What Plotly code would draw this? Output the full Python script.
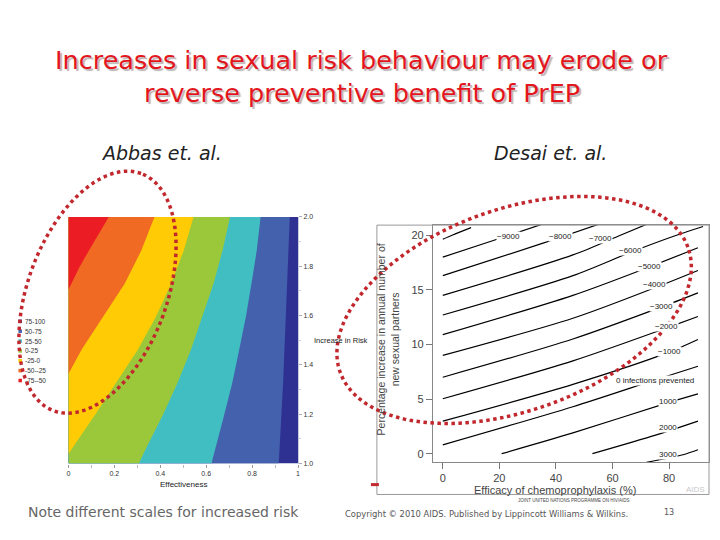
import math
import plotly.graph_objects as go

# The page body has an 8px margin; the figure is sized so it fits the 720x540 window.
OFF = 8
W, H = 720 - 2 * OFF, 540 - 2 * OFF


def px(x):
    return (x - OFF) / W


def py(y):
    return 1 - (y - OFF) / H


# ---------------- Left chart (Abbas et al.) ----------------
# Band boundaries, (effectiveness, increase in risk), top -> bottom
red_orange_x = [0.176, 0.130, 0.089, 0.048, 0.010, 0.0]
red_orange_y = [2.0, 1.929, 1.863, 1.796, 1.729, 1.705]
orange_yellow_x = [0.375, 0.317, 0.245, 0.152, 0.058, 0.0]
orange_yellow_y = [2.0, 1.863, 1.729, 1.596, 1.463, 1.363]
yellow_green_x = [0.545, 0.502, 0.447, 0.382, 0.303, 0.209, 0.115, 0.036, 0.0]
yellow_green_y = [2.0, 1.863, 1.729, 1.596, 1.463, 1.329, 1.196, 1.089, 1.039]
green_teal_x = [0.704, 0.671, 0.632, 0.584, 0.534, 0.476, 0.411, 0.339, 0.307]
green_teal_y = [2.0, 1.863, 1.729, 1.596, 1.463, 1.329, 1.196, 1.063, 1.0]
teal_blue_x = [0.837, 0.820, 0.797, 0.773, 0.744, 0.714, 0.678, 0.642, 0.623]
teal_blue_y = [2.0, 1.863, 1.729, 1.596, 1.463, 1.329, 1.196, 1.063, 1.0]
blue_navy_x = [0.964, 0.950, 0.935, 0.916]
blue_navy_y = [2.0, 1.663, 1.329, 1.0]

band_labels = ["75-100", "50-75", "25-50", "0-25", "-25-0", "-50--25", "-75--50"]
band_colors = ["#2E3192", "#4461AD", "#41BEC1", "#9BC83B", "#FFCB05", "#F06A24", "#EC1C24"]

left_xticks = [0, 0.2, 0.4, 0.6, 0.8, 1]
left_xticktext = ["0", "0.2", "0.4", "0.6", "0.8", "1"]
left_yticks = [1.0, 1.2, 1.4, 1.6, 1.8, 2.0]

# ---------------- Right chart (Desai et al.) ----------------
contour_x = {
    "-10000": [0, 3.5, 10],
    "-9000": [0, 17.6, 35],
    "-8000": [0, 35.7, 55],
    "-7000": [0, 46, 63, 72],
    "-6000": [0, 46, 66, 82.6, 92],
    "-5000": [0, 46, 73, 90.2],
    "-4000": [0, 46, 75, 90.2],
    "-3000": [0, 46, 77, 90.2],
    "-2000": [0, 46, 79, 90.2],
    "-1000": [0, 46, 80, 90.2],
    "0": [0, 46, 75, 90.2],
    "1000": [20.8, 46, 80, 90.2],
    "2000": [52.9, 75.5, 90.2],
    "3000": [72, 84.9, 90.2],
}
contour_y = {
    "-10000": [19.64, 20.03, 20.7],
    "-9000": [18.0, 19.5, 21.0],
    "-8000": [16.3, 19.3, 21.0],
    "-7000": [14.5, 18.2, 20.03, 21.0],
    "-6000": [12.7, 16.3, 18.4, 20.0, 20.8],
    "-5000": [10.9, 14.5, 17.1, 18.86],
    "-4000": [9.0, 12.4, 15.2, 16.78],
    "-3000": [7.0, 10.5, 13.4, 14.73],
    "-2000": [5.03, 8.5, 11.5, 12.56],
    "-1000": [2.98, 6.35, 9.3, 10.45],
    "0": [0.81, 4.3, 6.75, 8.01],
    "1000": [0, 1.9, 4.7, 5.48],
    "2000": [0, 1.72, 2.98],
    "3000": [-0.8, -0.1, 0.36],
}
label_text = ["\u22129000", "\u22128000", "\u22127000", "\u22126000", "\u22125000", "\u22124000",
              "\u22123000", "\u22122000", "\u22121000", "0 infections prevented", "1000", "2000", "3000"]
label_x = [23.4, 41.6, 55.9, 66.2, 73.2, 75.0, 77.3, 79.1, 80.2, 75.0, 79.6, 79.6, 79.6]
label_y = [19.9, 19.9, 19.7, 18.58, 17.14, 15.5, 13.46, 11.66, 9.34, 6.72, 4.76, 2.41, -0.03]

right_xticks = [0, 20, 40, 60, 80]
right_yticks = [0, 5, 10, 15, 20]

fig = go.Figure()

# Left: navy background then bands left of each boundary
fig.add_trace(go.Scatter(x=[0, 1, 1, 0], y=[1, 1, 2, 2], fill="toself", mode="lines",
                         line=dict(width=0), fillcolor=band_colors[0], xaxis="x", yaxis="y",
                         hoverinfo="skip", showlegend=False))
boundaries = [
    (blue_navy_x, blue_navy_y, band_colors[1]),
    (teal_blue_x, teal_blue_y, band_colors[2]),
    (green_teal_x, green_teal_y, band_colors[3]),
    (yellow_green_x, yellow_green_y, band_colors[4]),
    (orange_yellow_x, orange_yellow_y, band_colors[5]),
    (red_orange_x, red_orange_y, band_colors[6]),
]
for bx, by, col in boundaries:
    xs = list(bx)
    ys = list(by)
    if by[-1] <= 1.0:
        xs += [0]
        ys += [1.0]
    xs += [0]
    ys += [2.0]
    fig.add_trace(go.Scatter(x=xs, y=ys, fill="toself", mode="lines", line=dict(width=0),
                             fillcolor=col, xaxis="x", yaxis="y", hoverinfo="skip",
                             showlegend=False))

# Right: contour lines
for lvl in contour_x:
    fig.add_trace(go.Scatter(x=contour_x[lvl], y=contour_y[lvl], mode="lines",
                             line=dict(color="black", width=1.2, shape="spline", smoothing=0.8),
                             xaxis="x2", yaxis="y2", hoverinfo="skip", showlegend=False))

annotations = []
for t, lx, ly in zip(label_text, label_x, label_y):
    annotations.append(dict(x=lx, y=ly, xref="x2", yref="y2", text=t, showarrow=False,
                            xanchor="center", yanchor="middle",
                            font=dict(family="Liberation Sans", size=8, color="#222"),
                            bgcolor="white", borderpad=0))


def note(x, y, text, size, color, family="Liberation Sans", xanchor="center", shadow=None, **kw):
    font = dict(family=family, size=size, color=color)
    if shadow:
        font["shadow"] = shadow
    annotations.append(dict(x=px(x), y=py(y), xref="paper", yref="paper", text=text,
                            showarrow=False, xanchor=xanchor, yanchor="middle", font=font, **kw))


# Title (with a soft drop shadow as in the slide)
title_lines = ["Increases in sexual risk behaviour may erode or", "reverse preventive benefit of PrEP"]
title_y = [57, 90]
for t, ty in zip(title_lines, title_y):
    note(362, ty, t, 25.5, "#E3161D", family="DejaVu Sans", shadow="2px 2px 1px #BDB5B5")

# Subtitles
note(160, 151, "<i>Abbas et. al.</i>", 19, "#222", family="DejaVu Sans")
note(552, 151, "<i>Desai et. al.</i>", 19, "#222", family="DejaVu Sans")

# Left chart legend
for i, lab in enumerate(band_labels):
    note(21, 321.5 + i * 10, lab, 6.5, "#333", xanchor="left")

# Left axis titles
note(182, 487, "Effectiveness", 8, "#222")
note(312, 341, "Increase in Risk", 7.5, "#222", xanchor="left")

# Right axis titles
note(388, 340, "Percentage increase in annual number of<br>new sexual partners", 10.5, "#444",
     textangle=-90)
note(556, 492, "Efficacy of chemoprophylaxis (%)", 11, "#444")
note(697, 492, "AIDS", 8, "#C8C8C8")
note(575, 503, "JOINT UNITED NATIONS PROGRAMME ON HIV/AIDS", 4.5, "#444")

# Footer texts
note(162, 515, "Note different scales for increased risk", 14, "#666", family="DejaVu Sans")
note(487, 517, "Copyright \u00a9 2010 AIDS. Published by Lippincott Williams &amp; Wilkins.", 8.4,
     "#555", family="DejaVu Sans")
note(671, 515, "13", 8, "#555", family="DejaVu Sans")

shapes = []
# legend squares
for i, col in enumerate(band_colors):
    yy = 321.5 + i * 10
    shapes.append(dict(type="rect", xref="paper", yref="paper", x0=px(16.5), x1=px(20),
                       y0=py(yy + 1.8), y1=py(yy - 1.8), fillcolor=col, line=dict(width=0)))

# outer frame of right figure
shapes.append(dict(type="rect", xref="paper", yref="paper", x0=px(377), x1=px(711),
                   y0=py(497), y1=py(224), line=dict(color="#999", width=1)))


def ellipse_path(cx, cy, a, b, theta_deg, n=160):
    th = math.radians(theta_deg)
    pts = []
    for k in range(n + 1):
        t = 2 * math.pi * k / n
        x = cx + a * math.cos(t) * math.cos(th) - b * math.sin(t) * math.sin(th)
        y = cy - (a * math.cos(t) * math.sin(th) + b * math.sin(t) * math.cos(th))
        pts.append((px(x), py(y)))
    return "M " + " L ".join(f"{x:.5f},{y:.5f}" for x, y in pts) + " Z"


for cx, cy, a, b, th in [(96, 292, 128, 70, 70), (515, 310, 186, 102, 20)]:
    shapes.append(dict(type="path", xref="paper", yref="paper", path=ellipse_path(cx, cy, a, b, th),
                       line=dict(color="#C1272D", width=3.5, dash="dot")))
shapes.append(dict(type="line", xref="paper", yref="paper", x0=px(371), x1=px(379), y0=py(487),
                   y1=py(487), line=dict(color="#C1272D", width=3)))

axis_font_small = dict(family="Liberation Sans", size=7, color="#333")
fig.update_layout(
    width=W, height=H,
    margin=dict(l=0, r=0, t=0, b=0),
    paper_bgcolor="white", plot_bgcolor="white",
    showlegend=False,
    xaxis=dict(domain=[px(66.7), px(297.7)], range=[0, 1], tickvals=left_xticks,
               ticktext=left_xticktext, ticks="outside", ticklen=3, tickcolor="#999",
               tickfont=axis_font_small, showgrid=False, zeroline=False, showline=False,
               minor=dict(dtick=0.1, ticks="outside", ticklen=3, tickcolor="#bbb"),
               anchor="y", fixedrange=True),
    yaxis=dict(domain=[py(465.7), py(215.7)], range=[1, 2], tickvals=left_yticks,
               tickformat=".1f", side="right", ticks="outside", ticklen=3, tickcolor="#aab",
               tickfont=axis_font_small, showgrid=False, zeroline=False, showline=True,
               linecolor="#C8CCE0", linewidth=1,
               minor=dict(dtick=0.1, ticks="outside", ticklen=2, tickcolor="#ccd"),
               anchor="x", fixedrange=True),
    xaxis2=dict(domain=[px(433.3), px(710.7)], range=[-3.5, 94], tickvals=right_xticks,
                ticks="outside", ticklen=6, tickcolor="#777",
                tickfont=dict(family="Liberation Sans", size=11, color="#444"),
                showgrid=False, zeroline=False, showline=True, mirror=True,
                linecolor="#888", linewidth=1, anchor="y2", fixedrange=True),
    yaxis2=dict(domain=[py(464.3), py(224)], range=[-0.78, 20.93], tickvals=right_yticks,
                ticks="outside", ticklen=6, tickcolor="#777",
                tickfont=dict(family="Liberation Sans", size=11, color="#444"),
                showgrid=False, zeroline=False, showline=True, mirror=True,
                linecolor="#888", linewidth=1, anchor="x2", fixedrange=True),
    annotations=annotations,
    shapes=shapes,
)

fig.write_html("out.html")
